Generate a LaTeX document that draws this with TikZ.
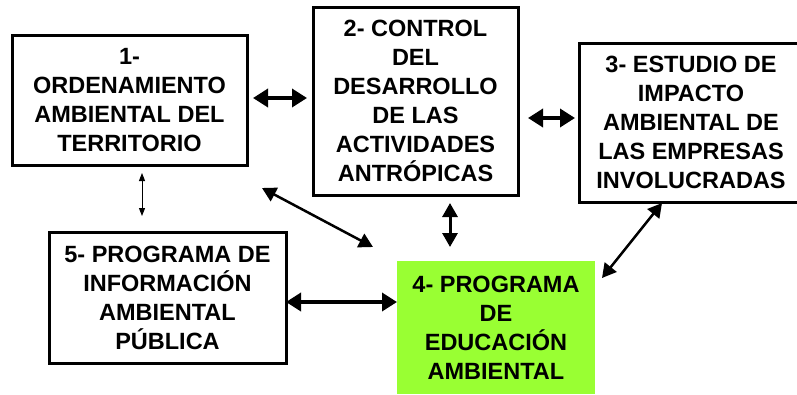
\documentclass[tikz,border=0pt]{standalone}
\usepackage{fontspec}
\setmainfont{Liberation Sans}
\usetikzlibrary{arrows.meta, calc}
\definecolor{mygreen}{RGB}{153, 255, 51}

\begin{document}
\begin{tikzpicture}[
    x = 1pt, y = -1pt,
    b0/.style = {draw, line width = 3pt, fill = white, inner sep = 0pt, outer sep = 0pt, align = center, font = \bfseries\fontsize{23.5}{29}\selectfont},
    a0/.style = {line width = 3.5pt, {Triangle[length=15pt, width=18pt]}-{Triangle[length=15pt, width=18pt]}},
    a1/.style = {line width = 1pt, {Triangle[length=8pt, width=6pt]}-{Triangle[length=8pt, width=6pt]}},
    a2/.style = {line width = 2.5pt, {Triangle[length=14pt, width=15pt]}-{Triangle[length=14pt, width=15pt]}},
]

\useasboundingbox (0,0) rectangle (797,394);

% boxes
\node[b0, minimum width = 235pt, minimum height = 130pt] (b1) at (129.5, 100) {1-\\ORDENAMIENTO\\AMBIENTAL DEL\\TERRITORIO};
\node[b0, minimum width = 205pt, minimum height = 188pt] (b2) at (415.5, 101) {2- CONTROL\\DEL\\DESARROLLO\\DE LAS\\ACTIVIDADES\\ANTRÓPICAS};
\node[b0, minimum width = 224pt, minimum height = 159pt] (b3) at (691, 122.5) {3- ESTUDIO DE\\IMPACTO\\AMBIENTAL DE\\LAS EMPRESAS\\INVOLUCRADAS};
\node[b0, draw = none, fill = mygreen, minimum width = 198pt, minimum height = 133pt] (b4) at (496, 327.5) {4- PROGRAMA\\DE\\EDUCACIÓN\\AMBIENTAL};
\node[b0, minimum width = 237pt, minimum height = 131pt] (b5) at (167.5, 297.5) {5- PROGRAMA DE\\INFORMACIÓN\\AMBIENTAL\\PÚBLICA};

\coordinate (c14a) at (262, 188);
\coordinate (c14b) at (373, 247);
\coordinate (c34a) at (662, 203);
\coordinate (c34b) at (602, 278);

% arrows
\draw[a0, shorten <= 6pt, shorten >= 6pt] (b1.east |- 0,98) -- (b2.west |- 0,98);
\draw[a0, shorten <= 10pt, shorten >= 4pt] (b2.east |- 0,118) -- (b3.west |- 0,118);
\draw[a1, shorten <= 8pt, shorten >= 16pt] (142,0 |- b1.south) -- (142,0 |- b5.north);
\draw[a2] (c14a) -- (c14b);
\draw[a2, line width = 3pt, shorten <= 8pt, shorten >= 14pt] (450,0 |- b2.south) -- (450,0 |- b4.north);
\draw[a2] (c34a) -- (c34b);
\draw[a0] (b5.east |- 0,302) -- (b4.west |- 0,302);

\end{tikzpicture}
\end{document}
